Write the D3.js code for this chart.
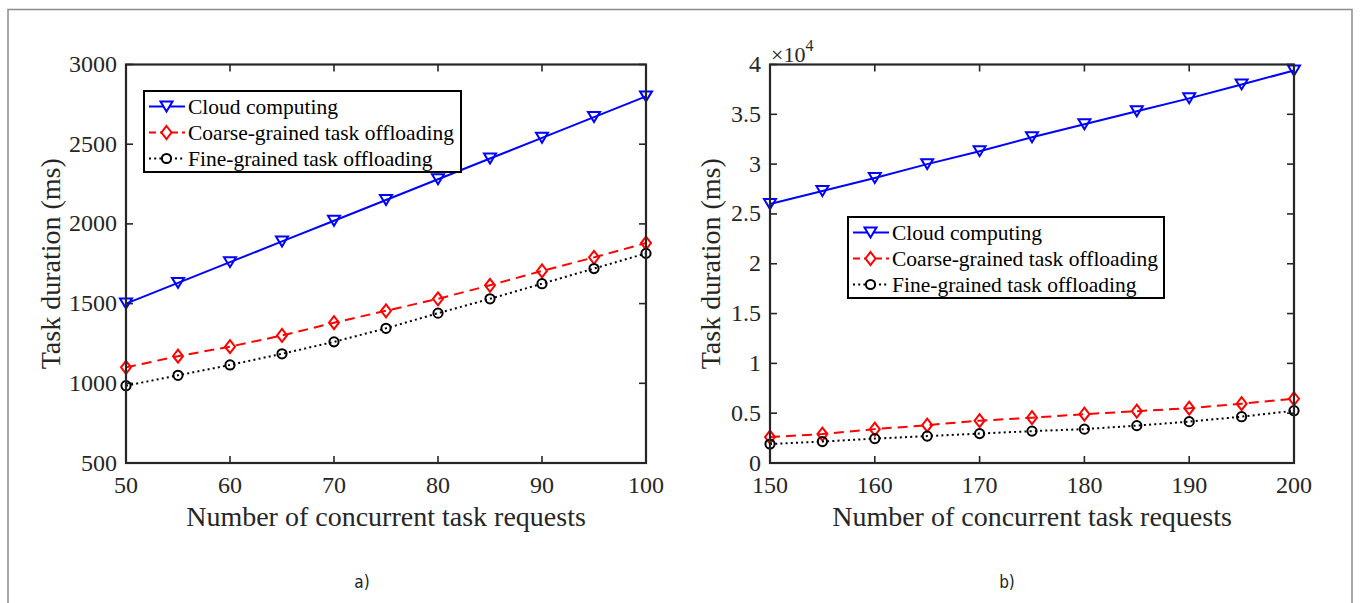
<!DOCTYPE html>
<html><head><meta charset="utf-8">
<script src="https://cdn.jsdelivr.net/npm/d3@7"></script>
<style>body{margin:0;background:#fff;} svg{display:block;}</style>
</head><body>
<svg id="c" width="1360" height="603"></svg>
<script>
// ---------- data ----------
const seriesNames = ["Cloud computing", "Coarse-grained task offloading", "Fine-grained task offloading"];
const leftX = [50,55,60,65,70,75,80,85,90,95,100];
const leftCloud = [1500,1630,1760,1890,2020,2150,2280,2410,2540,2670,2800];
const leftCoarse = [1100,1170,1230,1300,1380,1455,1530,1615,1705,1790,1880];
const leftFine = [985,1050,1115,1185,1260,1345,1440,1530,1625,1720,1815];
const leftYTicks = [500,1000,1500,2000,2500,3000];
const leftXTicks = [50,60,70,80,90,100];

const rightX = [150,155,160,165,170,175,180,185,190,195,200];
const rightCloud = [26000,27300,28600,30000,31300,32700,34000,35300,36600,38000,39400];
const rightCoarse = [2600,2900,3400,3800,4250,4550,4900,5200,5500,5950,6450];
const rightFine = [1900,2150,2450,2700,2950,3200,3400,3750,4150,4650,5250];
const rightYTicks = [0,5000,10000,15000,20000,25000,30000,35000,40000];
const rightYTickLabels = ["0","0.5","1","1.5","2","2.5","3","3.5","4"];
const rightXTicks = [150,160,170,180,190,200];

const xLabel = "Number of concurrent task requests";
const yLabel = "Task duration (ms)";

// ---------- drawing ----------
const svg = d3.select("#c");
const AX = "#262626";
const SERIF = "'Liberation Serif','Times New Roman',serif";

svg.append("path").attr("d","M8,603V9.5H1352V603").attr("fill","none")
  .attr("stroke","#8c8c8c").attr("stroke-width",1.5);

const styles = [
  {color:"#0000ff", dash:null, marker:"tri"},
  {color:"#ff0000", dash:"10,6", marker:"dia"},
  {color:"#000000", dash:"2,3.2", marker:"cir"}
];

function markerPath(type){
  if(type==="tri") return "M-6,-5L6,-5L0,5Z";
  if(type==="dia") return "M0,-6.5L5,0L0,6.5L-5,0Z";
  return "M4.6,0A4.6,4.6 0 1 1 -4.6,0A4.6,4.6 0 1 1 4.6,0Z";
}

function panel(cfg){
  const g = svg.append("g");
  const x = d3.scaleLinear().domain(cfg.xDomain).range([cfg.left, cfg.right]);
  const y = d3.scaleLinear().domain(cfg.yDomain).range([cfg.bottom, cfg.top]);
  const tl = 7;
  const ax = g.append("g").attr("stroke",AX).attr("stroke-width",1.6);
  cfg.xTicks.forEach(t=>{
    ax.append("line").attr("x1",x(t)).attr("x2",x(t)).attr("y1",cfg.bottom).attr("y2",cfg.bottom-tl);
    ax.append("line").attr("x1",x(t)).attr("x2",x(t)).attr("y1",cfg.top).attr("y2",cfg.top+tl);
  });
  cfg.yTicks.forEach(t=>{
    ax.append("line").attr("y1",y(t)).attr("y2",y(t)).attr("x1",cfg.left).attr("x2",cfg.left+tl);
    ax.append("line").attr("y1",y(t)).attr("y2",y(t)).attr("x1",cfg.right).attr("x2",cfg.right-tl);
  });
  cfg.xTicks.forEach(t=>{
    g.append("text").attr("x",x(t)).attr("y",cfg.bottom+30).attr("text-anchor","middle")
      .attr("font-family",SERIF).attr("font-size",24).attr("fill",AX).text(t);
  });
  cfg.yTicks.forEach((t,i)=>{
    g.append("text").attr("x",cfg.left-9).attr("y",y(t)+7.5).attr("text-anchor","end")
      .attr("font-family",SERIF).attr("font-size",24).attr("fill",AX)
      .text(cfg.yTickLabels ? cfg.yTickLabels[i] : t);
  });
  g.append("text").attr("x",(cfg.left+cfg.right)/2).attr("y",cfg.bottom+63).attr("text-anchor","middle")
    .attr("font-family",SERIF).attr("font-size",28).attr("fill",AX).text(xLabel);
  g.append("text").attr("transform",`translate(${cfg.yLabelX},${(cfg.top+cfg.bottom)/2}) rotate(-90)`)
    .attr("text-anchor","middle").attr("font-family",SERIF).attr("font-size",28).attr("fill",AX).text(yLabel);

  cfg.series.forEach((vals,si)=>{
    const st = styles[si];
    const line = d3.line().x((d,i)=>x(cfg.xs[i])).y(d=>y(d));
    g.append("path").attr("d",line(vals)).attr("fill","none").attr("stroke",st.color)
      .attr("stroke-width",2).attr("stroke-dasharray",st.dash);
    vals.forEach((v,i)=>{
      g.append("path").attr("d",markerPath(st.marker))
        .attr("transform",`translate(${x(cfg.xs[i])},${y(v)})`)
        .attr("fill","none").attr("stroke",st.color).attr("stroke-width",2);
    });
  });
  g.append("rect").attr("x",cfg.left).attr("y",cfg.top).attr("width",cfg.right-cfg.left)
    .attr("height",cfg.bottom-cfg.top).attr("fill","none").attr("stroke",AX).attr("stroke-width",2.2);

  if(cfg.mult){
    const m = g.append("text").attr("x",cfg.left+1).attr("y",cfg.top-3)
      .attr("font-family",SERIF).attr("font-size",22).attr("fill",AX);
    m.append("tspan").text("\u00d710");
    m.append("tspan").attr("font-size",16).attr("dy",-11).text("4");
  }

  const L = cfg.legend;
  const lg = g.append("g");
  lg.append("rect").attr("x",L.x).attr("y",L.y).attr("width",L.w).attr("height",L.h)
    .attr("fill","#fff").attr("stroke","#000").attr("stroke-width",2);
  seriesNames.forEach((name,si)=>{
    const st = styles[si];
    const yy = L.y + 15.5 + si*26;
    lg.append("line").attr("x1",L.x+5).attr("x2",L.x+41).attr("y1",yy).attr("y2",yy)
      .attr("stroke",st.color).attr("stroke-width",2).attr("stroke-dasharray",st.dash ? (si===1?"7,4":"2,3.2") : null);
    lg.append("path").attr("d",markerPath(st.marker)).attr("transform",`translate(${L.x+22.5},${yy})`)
      .attr("fill","#fff").attr("stroke",st.color).attr("stroke-width",2);
    lg.append("text").attr("x",L.x+44).attr("y",yy+7).attr("font-family",SERIF).attr("font-size",21.5)
      .attr("fill","#000").text(name);
  });

  g.append("text").attr("x",cfg.caption.x).attr("y",cfg.caption.y).attr("text-anchor","middle")
    .attr("font-family","'DejaVu Sans Condensed','DejaVu Sans',sans-serif").attr("font-size",17)
    .attr("fill","#222").text(cfg.caption.t);
}

panel({id:"a", xs:leftX, series:[leftCloud,leftCoarse,leftFine],
  xDomain:[50,100], yDomain:[500,3000], left:126, right:646, top:64.5, bottom:463,
  xTicks:leftXTicks, yTicks:leftYTicks, yLabelX:60,
  legend:{x:144, y:91, w:317, h:81}, caption:{x:362, y:588, t:"a)"}});

panel({id:"b", xs:rightX, series:[rightCloud,rightCoarse,rightFine],
  xDomain:[150,200], yDomain:[0,40000], left:770, right:1294, top:64.5, bottom:463,
  xTicks:rightXTicks, yTicks:rightYTicks, yTickLabels:rightYTickLabels, yLabelX:720, mult:true,
  legend:{x:848, y:217, w:316, h:81}, caption:{x:1007, y:588, t:"b)"}});
</script>
</body></html>
